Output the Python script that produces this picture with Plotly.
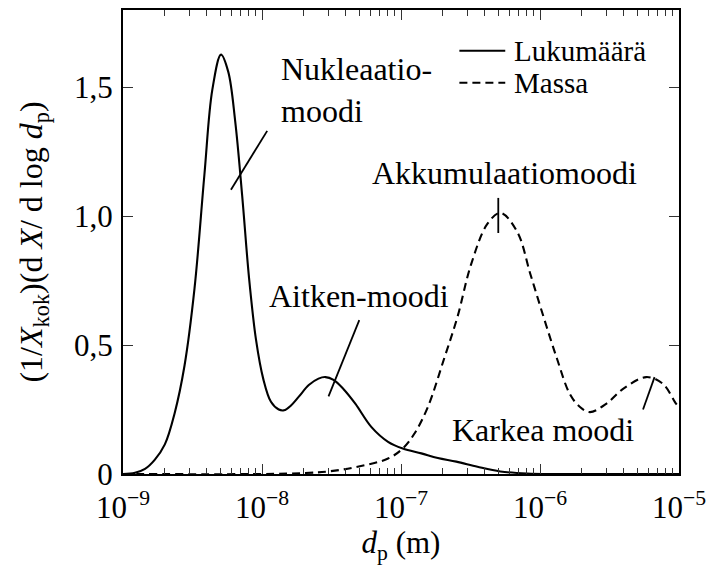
import plotly.graph_objects as go

# Particle diameter (m) and normalised number distribution
dp_number = [1.00e-9, 1.22e-9, 1.44e-9, 1.69e-9, 2.00e-9, 2.35e-9, 2.77e-9, 3.27e-9,
             3.85e-9, 4.39e-9, 5.07e-9, 5.72e-9, 6.41e-9, 7.20e-9, 8.07e-9, 9.06e-9,
             1.02e-8, 1.16e-8, 1.32e-8, 1.44e-8, 1.61e-8, 1.84e-8, 2.17e-8, 2.55e-8,
             2.86e-8, 3.27e-8, 3.85e-8, 4.69e-8, 6.11e-8, 8.07e-8, 1.03e-7, 1.40e-7,
             1.84e-7, 2.50e-7, 3.55e-7, 5.18e-7, 8.07e-7, 1.32e-6, 1.00e-5]
number_dist = [0.0, 0.005, 0.02, 0.055, 0.115, 0.235, 0.42, 0.72,
               1.16, 1.49, 1.627, 1.56, 1.37, 1.08, 0.76, 0.52,
               0.37, 0.28, 0.25, 0.247, 0.265, 0.30, 0.345, 0.370,
               0.376, 0.365, 0.330, 0.273, 0.183, 0.125, 0.099, 0.080,
               0.062, 0.048, 0.028, 0.010, 0.002, 0.0, 0.0]

# Particle diameter (m) and normalised mass distribution
dp_mass = [1.00e-9, 1.00e-8, 2.05e-8, 3.01e-8, 4.67e-8, 8.07e-8, 1.03e-7, 1.25e-7,
           1.56e-7, 2.05e-7, 2.55e-7, 3.18e-7, 4.18e-7, 5.20e-7, 6.85e-7, 8.53e-7,
           1.06e-6, 1.32e-6, 1.64e-6, 1.94e-6, 2.29e-6, 3.01e-6, 3.96e-6, 5.81e-6,
           7.65e-6, 9.52e-6, 1.00e-5]
mass_dist = [0.0, 0.0, 0.004, 0.01, 0.026, 0.06, 0.099, 0.157,
             0.26, 0.45, 0.61, 0.81, 0.97, 1.013, 0.94, 0.775,
             0.61, 0.45, 0.31, 0.26, 0.24, 0.273, 0.33, 0.376,
             0.35, 0.273, 0.26]

# Mode labels: (text, log10 of diameter, y, x-anchor)
mode_labels = [
    ("Nukleaatio-<br>moodi", -7.879, 1.49, "left"),
    ("Akkumulaatiomoodi", -6.257, 1.168, "center"),
    ("Aitken-moodi", -7.30, 0.69, "center"),
    ("Karkea moodi", -5.979, 0.17, "center"),
]
# Leader lines from label to mode: ([dp0, dp1], [y0, y1])
leaders = [
    ([5.98e-9, 1.09e-8], [1.103, 1.331]),
    ([5.01e-7, 5.01e-7], [1.071, 0.935]),
    ([3.01e-8, 5.01e-8], [0.301, 0.597]),
    ([5.51e-6, 6.67e-6], [0.250, 0.376]),
]

# Legend entries: (label, dash style)
legend_entries = [("Lukumäärä", "solid"), ("Massa", "8px,5px")]

x_ticks = [1e-9, 1e-8, 1e-7, 1e-6, 1e-5]
x_ticktext = ["10<sup>−9</sup>", "10<sup>−8</sup>", "10<sup>−7</sup>",
              "10<sup>−6</sup>", "10<sup>−5</sup>"]
y_ticks = [0, 0.5, 1.0, 1.5]
y_ticktext = ["0", "0,5", "1,0", "1,5"]

FONT = "Liberation Serif, Times New Roman, DejaVu Serif, serif"

fig = go.Figure()
fig.add_trace(go.Scatter(
    x=dp_number, y=number_dist, mode="lines", name=legend_entries[0][0], showlegend=False,
    line=dict(color="black", width=2.1, dash=legend_entries[0][1], shape="spline", smoothing=1)))
fig.add_trace(go.Scatter(
    x=dp_mass, y=mass_dist, mode="lines", name=legend_entries[1][0], showlegend=False,
    line=dict(color="black", width=2.1, dash=legend_entries[1][1], shape="spline", smoothing=1)))

for xs, ys in leaders:
    fig.add_trace(go.Scatter(x=xs, y=ys, mode="lines", showlegend=False,
                             hoverinfo="skip", line=dict(color="black", width=1.8)))

for text, lx, ly, anchor in mode_labels:
    fig.add_annotation(x=lx, y=ly, xref="x", yref="y", text=text, showarrow=False,
                       xanchor=anchor, yanchor="middle", align="left",
                       font=dict(family=FONT, size=32, color="black"))

# Legend drawn in the upper-right corner of the axes
leg_x0, leg_x1, leg_text_x = 0.605, 0.6875, 0.700
leg_rows = [0.912, 0.843]
for (label, dash), ly in zip(legend_entries, leg_rows):
    fig.add_shape(type="line", xref="paper", yref="paper",
                  x0=leg_x0, x1=leg_x1, y0=ly, y1=ly,
                  line=dict(color="black", width=2, dash=dash))
    fig.add_annotation(x=leg_text_x, y=ly, xref="paper", yref="paper", text=label,
                       showarrow=False, xanchor="left", yanchor="middle",
                       font=dict(family=FONT, size=29, color="black"))

axis_common = dict(
    showline=True, linewidth=2, linecolor="black", mirror="ticks",
    ticks="inside", ticklen=10, tickwidth=1, tickcolor="#333",
    showgrid=False, zeroline=False,
    tickfont=dict(family=FONT, size=31, color="black"),
)

fig.update_xaxes(
    type="log", range=[-9, -5], tickvals=x_ticks, ticktext=x_ticktext,
    ticklabelstandoff=5,
    minor=dict(ticks="inside", ticklen=6, tickwidth=1, tickcolor="#333",
               dtick="D1", showgrid=False),
    title=dict(text="<i>d</i><sub>p</sub> (m)", font=dict(family=FONT, size=31, color="black"),
               standoff=6),
    **axis_common)
fig.update_yaxes(
    range=[0, 1.8], tickvals=y_ticks, ticktext=y_ticktext,
    ticklabelstandoff=2,
    title=dict(text="(1/<i>X</i><sub>kok</sub>)(d <i>X</i>/ d log <i>d</i><sub>p</sub>)",
               font=dict(family=FONT, size=32, color="black"), standoff=22),
    **axis_common)

fig.update_layout(
    width=714, height=567,
    margin=dict(l=123, r=31, t=8, b=93),
    plot_bgcolor="white", paper_bgcolor="white",
    showlegend=False,
)

fig.write_html("out.html")
